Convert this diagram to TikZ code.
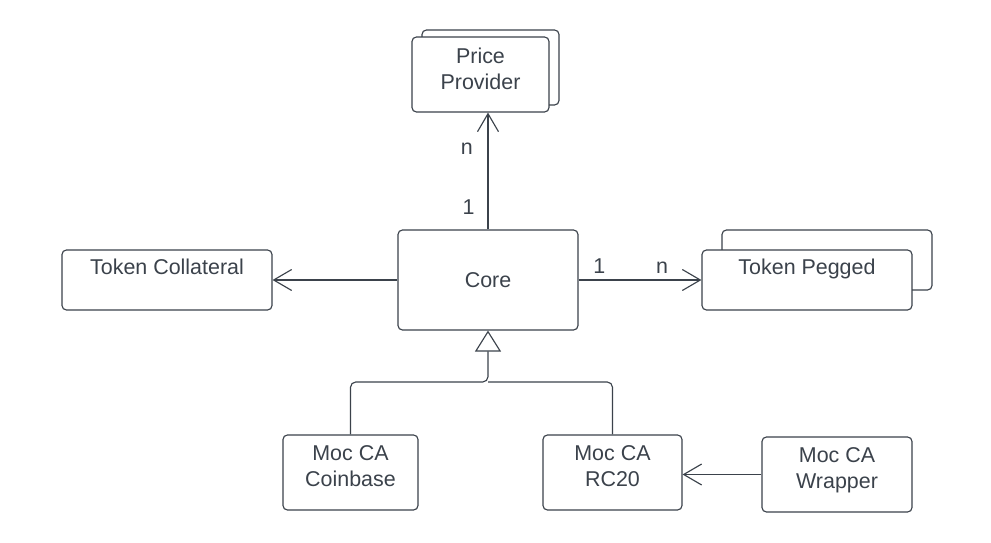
\documentclass[tikz,border=0pt]{standalone}
\usepackage{fontspec}
\setmainfont{Liberation Sans}
\usepackage{tikz}
\usetikzlibrary{arrows.meta,shadows}
\definecolor{ink}{HTML}{3B424B}

\begin{document}
\begin{tikzpicture}[x=0.02cm,y=-0.02cm,>={Straight Barb[length=0.36cm,width=0.42cm]},
  line width=0.65pt,draw=ink,text=ink,auto,font=\fontsize{12.2}{14.8}\selectfont,
  class node/.style={draw,fill=white,rounded corners=2.5pt,align=center,inner sep=0pt},
  stacked/.style 2 args={copy shadow={draw=ink,fill=white,shadow xshift=#1,shadow yshift=#2}},
  card/.style={minimum width=#1,minimum height=1.5cm,text depth=7pt}]

  \useasboundingbox (0,0) rectangle (991,543);

  \node[class node,minimum width=3.6cm,minimum height=2cm] (101) at (488,280)
    {Core};
  \node[class node,stacked={0.2cm}{0.14cm},card=2.74cm] (102) at (480.5,74.5)
    {Price\\Provider};
  \node[class node,minimum width=4.2cm,minimum height=1.2cm] (103) at (167,280)
    {Token Collateral\\~};
  \node[class node,stacked={0.4cm}{0.4cm},minimum width=4.2cm,minimum height=1.2cm] (104) at (807,280)
    {Token Pegged\\~};
  \node[class node,card=2.7cm] (105) at (350.5,472.5)
    {Moc CA\\Coinbase};
  \node[class node,card=2.78cm] (106) at (612.5,472.5)
    {Moc CA\\RC20};
  \node[class node,card=3cm] (107) at (837,474.5)
    {Moc CA\\Wrapper};
  \coordinate (108) at (488,382);

  \path[->]
    (101.north) edge node[pos=0.19,left=4pt] {1} node[pos=0.69,left=5pt] {n} (101.north |- 102.south)
    (101) edge node[pos=0.17] {1} node[pos=0.68] {n} (104)
    (101) edge (103)
    (107.west) edge (107.west -| 106.east);

  \draw[-{Triangle[open,length=0.42cm,width=0.52cm]},rounded corners=3pt]
    (105.north) |- (108) -- (101.south);
  \draw[rounded corners=3pt] (106.north) |- (108);

\end{tikzpicture}
\end{document}
